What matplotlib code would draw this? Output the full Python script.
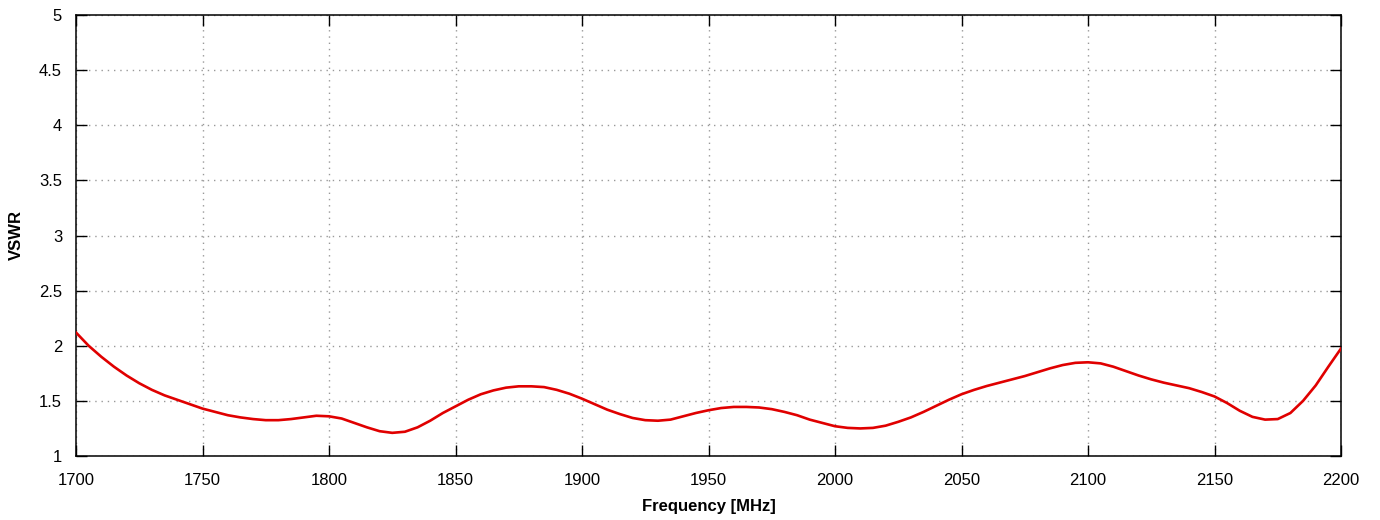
import matplotlib
matplotlib.use('Agg')
import matplotlib.pyplot as plt
from matplotlib.ticker import FormatStrFormatter, MultipleLocator

# values, every 5 MHz
freq = list(range(1700, 2201, 5))
vswr = [
    2.12, 2.00, 1.90, 1.81, 1.73, 1.66, 1.60, 1.55, 1.51, 1.47,
    1.43, 1.40, 1.37, 1.35, 1.335, 1.325, 1.325, 1.335, 1.35, 1.365,
    1.36, 1.34, 1.30, 1.26, 1.225, 1.21, 1.22, 1.26, 1.32, 1.39,
    1.45, 1.51, 1.56, 1.595, 1.62, 1.632, 1.632, 1.625, 1.60, 1.565,
    1.52, 1.47, 1.42, 1.38, 1.345, 1.325, 1.32, 1.33, 1.36, 1.39,
    1.415, 1.435, 1.445, 1.445, 1.44, 1.425, 1.40, 1.37, 1.33, 1.30,
    1.27, 1.255, 1.25, 1.255, 1.275, 1.31, 1.35, 1.40, 1.455, 1.51,
    1.56, 1.60, 1.635, 1.665, 1.695, 1.725, 1.76, 1.795, 1.825, 1.845,
    1.85, 1.84, 1.81, 1.77, 1.73, 1.695, 1.665, 1.64, 1.615, 1.58,
    1.54, 1.48, 1.41, 1.355, 1.33, 1.335, 1.39, 1.50, 1.64, 1.81,
    1.975,
]

plt.rcParams['font.family'] = ['Liberation Sans', 'DejaVu Sans']
plt.rcParams['font.size'] = 12

fig = plt.figure(figsize=(13.8, 5.2), dpi=100)
ax = fig.add_axes([76 / 1380, 64 / 520, 1265 / 1380, 441 / 520])

ax.plot(freq, vswr, color='#e00000', linewidth=1.9, zorder=3,
        solid_joinstyle='round')

ax.set_xlim(1700, 2200)
ax.set_ylim(1, 5)
ax.xaxis.set_major_locator(MultipleLocator(50))
ax.yaxis.set_major_locator(MultipleLocator(0.5))
ax.yaxis.set_major_formatter(FormatStrFormatter('%g'))

ax.grid(True, linestyle=(0, (1, 3.5)), color='#999999', linewidth=1)
ax.tick_params(axis='both', direction='in', length=8, width=1,
               top=True, right=True, labelsize=12)
ax.tick_params(axis='x', pad=12)
ax.tick_params(axis='y', pad=10)
for s in ax.spines.values():
    s.set_linewidth(1.1)

ax.set_xlabel('Frequency [MHz]', fontweight='bold', fontsize=12, labelpad=8)
ax.set_ylabel('VSWR', fontweight='bold', fontsize=12, labelpad=11)

fig.savefig('out.png', dpi=100)
